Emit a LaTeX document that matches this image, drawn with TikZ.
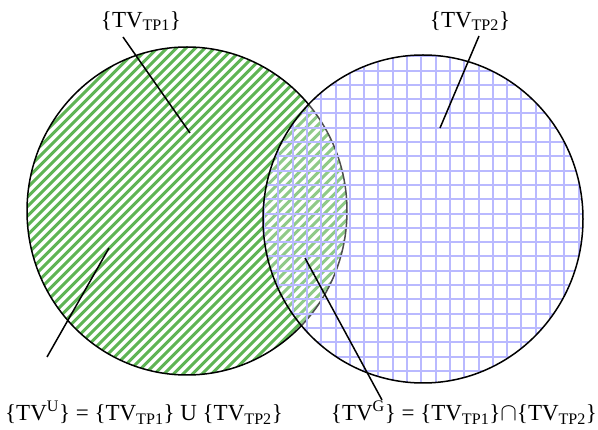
\documentclass[tikz,border=0pt]{standalone}
\usepackage{fontspec}
\setmainfont{Liberation Serif}
\definecolor{stripegreen}{RGB}{95,180,85}
\definecolor{gridblue}{RGB}{185,185,255}

\begin{document}
\begin{tikzpicture}[x=1pt,y=-1pt,line width=1.5pt,
  lbl/.style={font=\fontsize{23}{27}\selectfont,inner sep=0pt},
  stripeline/.style={draw=stripegreen,line width=3pt},
  gridline/.style={draw=gridblue,line width=2pt}]
\useasboundingbox (0,0) rectangle (598,430);
\begin{scope}
\clip (187,211) ellipse [x radius=160pt,y radius=164pt];
\foreach \i in {0,...,70} \draw[stripeline] ({-322+\i*9.5},385) -- ++(345,-345);
\end{scope}
\draw (187,211) ellipse [x radius=160pt,y radius=164pt];
\fill[white,opacity=0.3] (423,219) ellipse [x radius=160pt,y radius=164pt];
\begin{scope}
\clip (423,219) ellipse [x radius=160pt,y radius=164pt];
\foreach \i in {0,...,23} \draw[gridline] ({264.0+\i*14.3},50) -- ++(0,340);
\foreach \i in {0,...,24} \draw[gridline] (260,{42+\i*14.3}) -- ++(330,0);
\end{scope}
\draw (423,219) ellipse [x radius=160pt,y radius=164pt];
\node[lbl] (tp1) at (141,21) {\{TV\textsubscript{TP1}\}};
\node[lbl] (tp2) at (470,21) {\{TV\textsubscript{TP2}\}};
\node[lbl] (uni) at (144,413) {\{TV\textsuperscript{U}\} = \{TV\textsubscript{TP1}\} U \{TV\textsubscript{TP2}\}};
\node[lbl] (gen) at (464,413) {\{TV\textsuperscript{G}\} = \{TV\textsubscript{TP1}\}$\cap$\{TV\textsubscript{TP2}\}};
\coordinate (a1) at (123,37);
\coordinate (a2) at (190,133);
\coordinate (b1) at (479,36);
\coordinate (b2) at (440,128);
\coordinate (c1) at (109,248);
\coordinate (c2) at (47,357);
\coordinate (d1) at (305,258);
\coordinate (d2) at (382,400);
\draw (a1) -- (a2);
\draw (b1) -- (b2);
\draw (c1) -- (c2);
\draw (d1) -- (d2);
\end{tikzpicture}
\end{document}
